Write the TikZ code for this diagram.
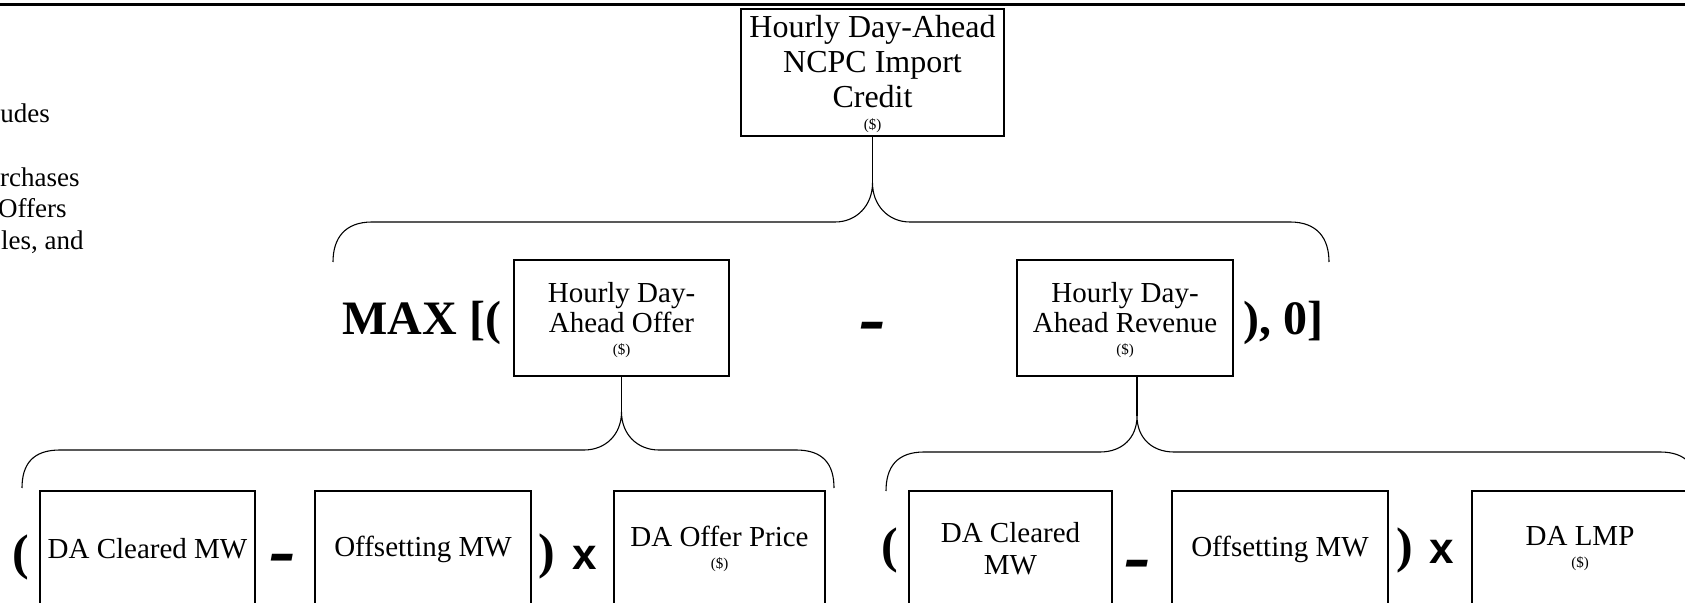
\documentclass[tikz,border=0pt]{standalone}
\usepackage{fontspec}
\setmainfont{Liberation Serif}
\newfontfamily\opsans{Liberation Sans}
\newcommand{\dollarnote}{{\fontsize{7.5}{8}\selectfont(\$)}}
\begin{document}
\begin{tikzpicture}[x=0.5pt,y=-0.5pt,
  box/.style={draw=black, line width=0.55pt, inner sep=0pt, align=center},
  conn/.style={draw=black, line width=0.55pt},
  bigop/.style={inner sep=0pt, font=\bfseries\fontsize{24}{26}\selectfont},
  paren/.style={inner sep=0pt, font=\bfseries\fontsize{25}{27}\selectfont},
  timesop/.style={inner sep=0pt, font=\opsans\bfseries\fontsize{22}{24}\selectfont},
  minusop/.style={inner sep=0pt, font=\bfseries\itshape\fontsize{40}{40}\selectfont},
  frag/.style={inner sep=0pt, font=\fontsize{13.5}{15}\selectfont},
  midbox/.style={box, minimum height=58pt, font=\fontsize{14.5}{15}\selectfont},
  lowbox/.style={box, minimum height=58pt, font=\fontsize{14.5}{16}\selectfont}]
\useasboundingbox (0,0) rectangle (1685,603);
\clip (0,0) rectangle (1685,603);
\draw[line width=1.2pt] (0,4.5) -- (1685,4.5);

% cut-off text at the left
\node[frag, anchor=base west] (f1) at (0,123) {udes};
\node[frag, anchor=base east] (f2) at (80,187) {rchases};
\node[frag, anchor=base east] (f3) at (67,218) {Offers};
\node[frag, anchor=base east] (f4) at (84,250) {les, and};

% top box
\node[box, minimum width=131.5pt, minimum height=63.5pt, font=\fontsize{16}{17.5}\selectfont] (top) at (872.5,72.5)
  {\rule{0pt}{12.4pt}Hourly Day-Ahead\\NCPC Import\\Credit\\[-6.5pt]\dollarnote};

% middle row
\node[bigop, anchor=base west] (max) at (342,335) {MAX [(};
\node[midbox, minimum width=107.5pt] (offer) at (621.5,318) {\rule{0pt}{12pt}Hourly Day-\\Ahead Offer\\[-3.6pt]\dollarnote};
\node[minusop] (m1) at (873,333) {-};
\node[midbox, minimum width=108pt] (rev) at (1125,318) {\rule{0pt}{12pt}Hourly Day-\\Ahead Revenue\\[-3.6pt]\dollarnote};
\node[bigop, anchor=base west] (close) at (1243,335) {), 0]};

% bottom row, left
\node[paren] (lp1) at (21,557) {(};
\node[lowbox, minimum width=107.5pt] (b1) at (147.5,549) {DA Cleared MW};
\node[minusop] (m2) at (283,565.5) {-};
\node[lowbox, minimum width=108pt] (b2) at (423,549) {Offsetting MW};
\node[paren] (rp1) at (547,556) {)};
\node[timesop] (x1) at (585,557.5) {x};
\node[lowbox, minimum width=105.5pt] (b3) at (719.5,549) {DA Offer Price\\[-5pt]\dollarnote};

% bottom row, right
\node[paren] (lp2) at (890,550) {(};
\node[lowbox, minimum width=101.5pt] (b4) at (1010.5,549) {DA Cleared\\MW};
\node[minusop] (m3) at (1138,571.5) {-};
\node[lowbox, minimum width=108pt] (b5) at (1280,549) {Offsetting MW};
\node[paren] (rp2) at (1405,550.5) {)};
\node[timesop] (x2) at (1442,551.5) {x};
\node[lowbox, minimum width=108pt] (b6) at (1580,549) {DA LMP\\[-5pt]\dollarnote};

% top brace
\coordinate (k1) at (872.5,183);
\coordinate (k1l) at (333,262);
\coordinate (k1r) at (1329,262);
\draw[conn] (top.south) -- (k1);
\draw[conn] (k1l) .. controls +(0,-24) and +(-27,0) .. (372,222) -- (835,222)
  .. controls +(22,0) and +(0,22) .. (k1)
  .. controls +(0,22) and +(-22,0) .. (910,222) -- (1290,222)
  .. controls +(27,0) and +(0,-24) .. (k1r);

% lower left brace
\coordinate (k2) at (621.5,412);
\coordinate (k2l) at (22,488);
\coordinate (k2r) at (834,488);
\draw[conn] (offer.south) -- (k2);
\draw[conn] (k2l) .. controls +(0,-24) and +(-27,0) .. (60,450) -- (584,450)
  .. controls +(22,0) and +(0,22) .. (k2)
  .. controls +(0,22) and +(-22,0) .. (659,450) -- (796,450)
  .. controls +(27,0) and +(0,-24) .. (k2r);

% lower right brace
\coordinate (k3) at (1137,416);
\coordinate (k3l) at (886,491);
\coordinate (k3r) at (1698,491);
\draw[conn] (k3 |- rev.south) -- (k3);
\draw[conn] (k3l) .. controls +(0,-24) and +(-27,0) .. (924,452) -- (1100,452)
  .. controls +(22,0) and +(0,22) .. (k3)
  .. controls +(0,22) and +(-22,0) .. (1174,452) -- (1660,452)
  .. controls +(27,0) and +(0,-24) .. (k3r);
\end{tikzpicture}
\end{document}
